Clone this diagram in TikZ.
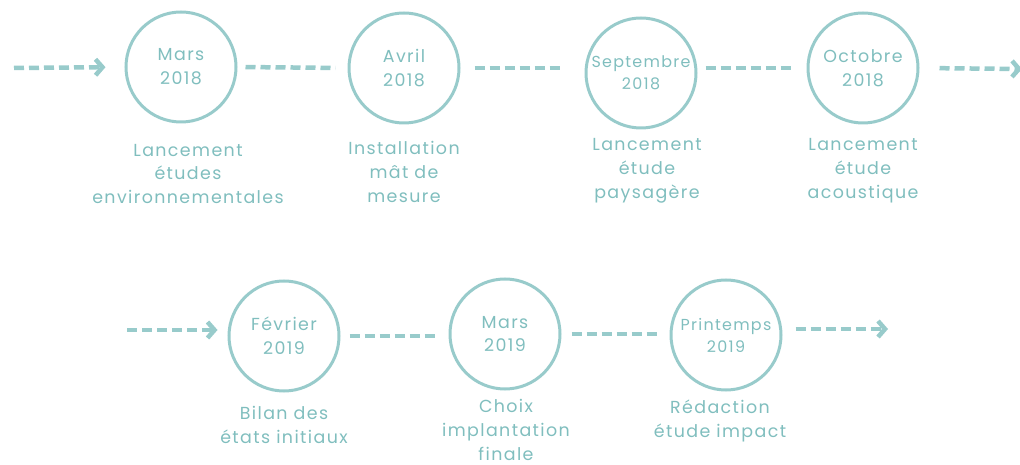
\documentclass[tikz,border=0pt]{standalone}
\usepackage{fontspec}
\setmainfont{Poppins}[LetterSpace=8]
\usetikzlibrary{arrows.meta}
\definecolor{lagon}{RGB}{152,203,203}
\definecolor{lagontxt}{RGB}{128,190,190}
\tikzset{
  jalon/.style={circle, draw=lagon, line width=3bp, minimum size=110bp, inner sep=0pt,
    align=center, text=lagontxt, font=\fontsize{17.5}{24}\selectfont},
  legende/.style={align=center, text=lagontxt, font=\fontsize{17.5}{24}\selectfont},
  tirets/.style={draw=lagon, line width=4.5bp, dash pattern=on 10bp off 5bp},
  fleche/.style={tirets, -{Straight Barb[length=7bp,width=16bp]}}
}
\begin{document}
\begin{tikzpicture}[x=1bp,y=-1bp]
  \useasboundingbox (0,0) rectangle (1020,465);

  %% 2018
  \node[jalon] (mars18) at (181,67) {Mars\\2018};
  \node[jalon] (avril18) at (404,68) {Avril\\2018};
  \node[jalon, font=\fontsize{16}{22}\selectfont] (sept18) at (641,73) {Septembre\\2018};
  \node[jalon] (oct18) at (863,68) {Octobre\\2018};

  \node[legende] (lmars18) at (188,174) {Lancement\\études\\environnementales};
  \node[legende] (lavril18) at (404,172) {Installation\\mât de\\mesure};
  \node[legende] (lsept18) at (647,171) {Lancement\\étude\\paysagère};
  \node[legende] (loct18) at (863,171) {Lancement\\étude\\acoustique};

  \coordinate (entree1) at (14,68);
  \coordinate (sortie1) at (1022,69);
  \draw[fleche, shorten >=19bp] (entree1) -- (mars18.west);
  \draw[tirets, shorten <=8bp, shorten >=12bp] (mars18.east) -- (avril18.west);
  \draw[tirets, shorten <=14bp, shorten >=21bp] (avril18.east) -- (avril18.east -| sept18.west);
  \draw[tirets, shorten <=8bp, shorten >=11bp] (oct18.west -| sept18.east) -- (oct18.west);
  \draw[fleche, shorten <=20bp] (oct18.east) -- (sortie1);

  %% 2019
  \node[jalon] (fev19) at (284,336) {Février\\2019};
  \node[jalon] (mars19) at (505,334) {Mars\\2019};
  \node[jalon, font=\fontsize{16}{22}\selectfont] (print19) at (726,335) {Printemps\\2019};

  \node[legende] (lfev19) at (284,425) {Bilan des\\états initiaux};
  \node[legende] (lmars19) at (506,430) {Choix\\implantation\\finale};
  \node[legende] (lprint19) at (720,421) {Rédaction\\étude impact};

  \coordinate (entree2) at (127,330);
  \coordinate (sortie2) at (888,329);
  \draw[fleche, shorten >=10bp] (entree2) -- (entree2 -| fev19.west);
  \draw[tirets, shorten <=9bp, shorten >=10bp] (fev19.east) -- (fev19.east -| mars19.west);
  \draw[tirets, shorten <=10bp, shorten >=8bp] (mars19.east) -- (mars19.east -| print19.west);
  \draw[fleche, shorten <=13bp] (sortie2 -| print19.east) -- (sortie2);

\end{tikzpicture}
\end{document}
